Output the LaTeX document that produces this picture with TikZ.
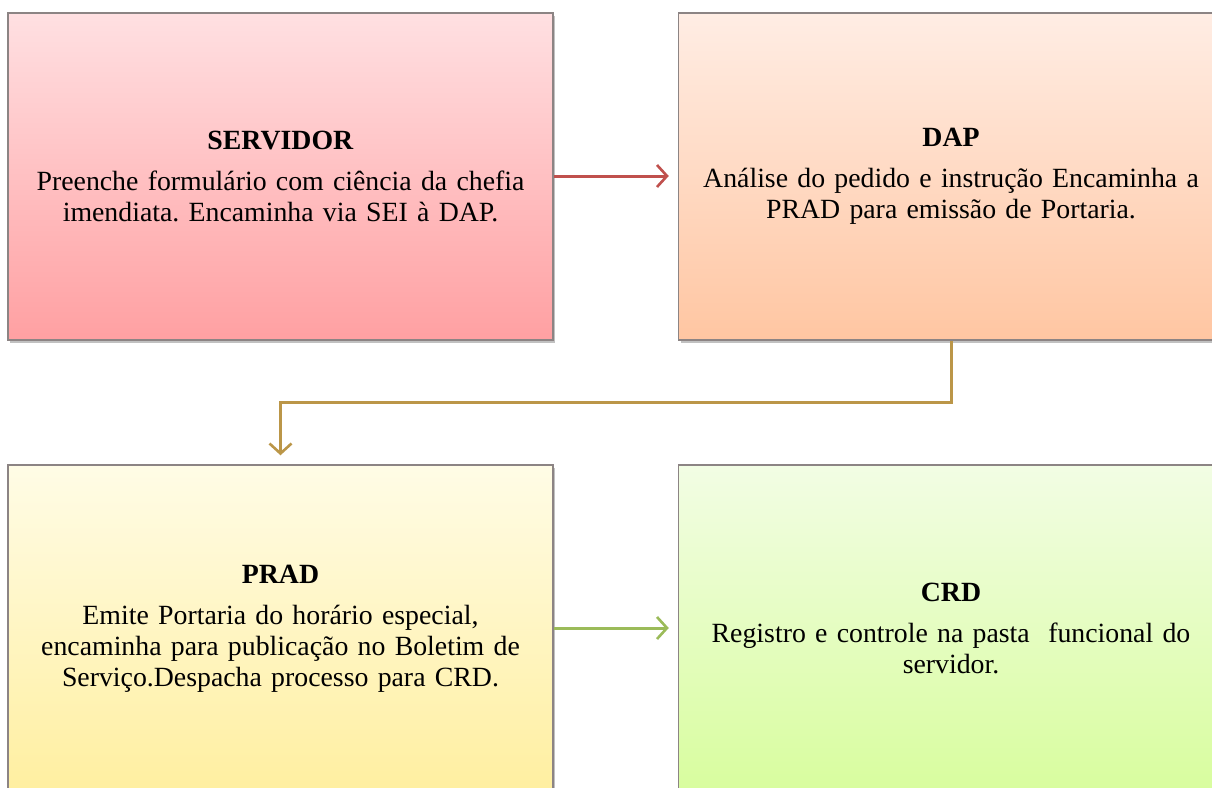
\documentclass[tikz,border=0pt]{standalone}
\usepackage{fontspec}
\setmainfont{Liberation Serif}
\usetikzlibrary{arrows.meta,shadows}
\definecolor{redA}{HTML}{C0504D}
\definecolor{goldA}{HTML}{BB9648}
\definecolor{greenA}{HTML}{9BBB59}
\definecolor{boxline}{HTML}{8C8484}
\definecolor{servT}{HTML}{FFE0E2}
\definecolor{servB}{HTML}{FFA0A2}
\definecolor{dapT}{HTML}{FFEDE4}
\definecolor{dapB}{HTML}{FFC6A2}
\definecolor{pradT}{HTML}{FFFCE6}
\definecolor{pradB}{HTML}{FFEFA0}
\definecolor{crdT}{HTML}{F2FDE4}
\definecolor{crdB}{HTML}{D8FD9E}
\frenchspacing
\tikzset{
  card/.style={draw=boxline, line width=1.5pt, rectangle, minimum width=545pt, minimum height=327pt,
    text width=530pt, align=center, inner sep=0pt,
    font=\fontsize{27.8}{31}\selectfont,
    drop shadow={shadow xshift=2pt, shadow yshift=-3pt, fill=black!40, opacity=0.6}},
  conn/.style={line width=3pt, -{Straight Barb[length=10pt,width=22pt,line width=2.6pt]}, shorten >=9pt}
}
\begin{document}
\begin{tikzpicture}[x=1pt,y=-1pt]
\clip (0,0) rectangle (1212,787);
\fill[white] (0,0) rectangle (1212,787);
\node[card, top color=servT, bottom color=servB] (serv) at (280.5,176.5)
  {\textbf{SERVIDOR}\\[10pt]Preenche formulário com ciência da chefia\\imendiata. Encaminha via SEI à DAP.};
\node[card, top color=dapT, bottom color=dapB] (dap) at (951,176.5)
  {\textbf{DAP}\\[10pt]Análise do pedido e instrução Encaminha a\\PRAD para emissão de Portaria.};
\node[card, top color=pradT, bottom color=pradB] (prad) at (280.5,628.5)
  {\textbf{PRAD}\\[10pt]Emite Portaria do horário especial,\\encaminha para publicação no Boletim de\\Serviço.Despacha processo para CRD.};
\node[card, top color=crdT, bottom color=crdB] (crd) at (951,628.5)
  {\textbf{CRD}\\[10pt]Registro e controle na pasta\ \ funcional do\\servidor.};
\draw[conn, redA] (serv.east |- 0,176) -- (dap.west |- 0,176);
\draw[conn, greenA] (prad.east |- 0,628) -- (crd.west |- 0,628);
\draw[conn, goldA] (dap.south) -- ++(0,62) -| (prad.north);
\end{tikzpicture}
\end{document}
